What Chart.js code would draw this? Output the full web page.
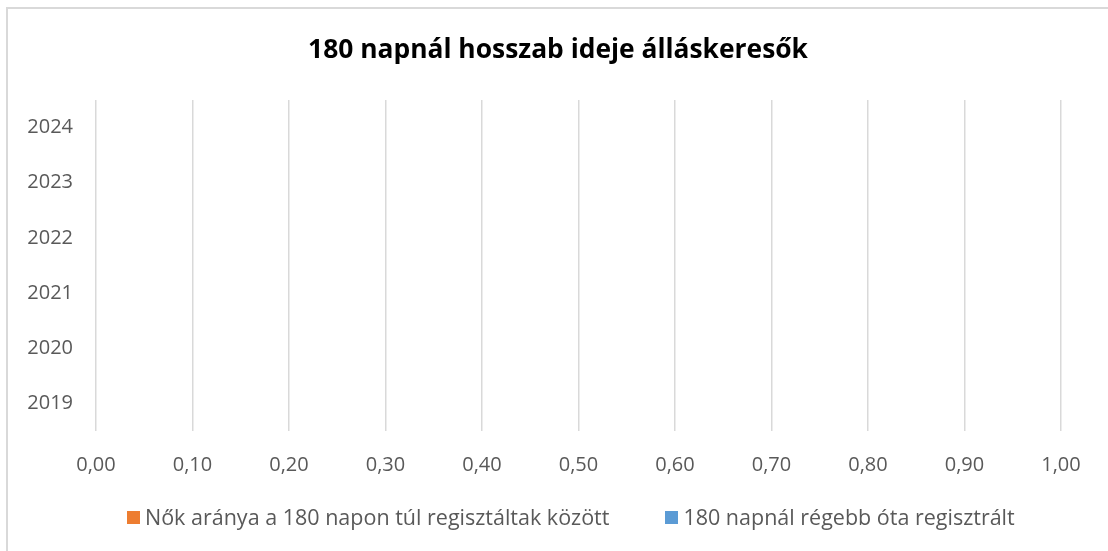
<!DOCTYPE html>
<html lang="hu">
<head>
<meta charset="utf-8">
<title>180 napnál hosszab ideje álláskeresők</title>
<script src="https://cdn.jsdelivr.net/npm/chart.js@4.4.1/dist/chart.umd.min.js"></script>
<style>
  html, body { margin: 0; padding: 0; background: #fff; overflow: hidden; }
  #frame {
    position: absolute; left: 6px; top: 7px; width: 1130px; height: 570px;
    border: 2px solid #d9d9d9; box-sizing: border-box;
  }
  #wrap { position: absolute; left: 0; top: 0; width: 1108px; height: 551px; }
  #legend {
    position: absolute; left: 0; top: 504px; padding-left: 127px;
    display: flex; gap: 56px;
    font-family: "Open Sans", sans-serif; font-size: 21.5px; color: #595959;
    line-height: 26px;
  }
  .lg-item { display: flex; align-items: center; white-space: nowrap; }
  .lg-box { width: 13px; height: 13px; margin-right: 5px; }
</style>
</head>
<body>
<div id="frame"></div>
<div id="wrap"><canvas id="chart"></canvas></div>
<div id="legend"></div>
<script>
/* empty horizontal bar chart — both series have no values in the source */

const years = ["2019", "2020", "2021", "2022", "2023", "2024"];
const womenShareName = "Nők aránya a 180 napon túl regisztáltak között";
const longTermName = "180 napnál régebb óta regisztrált";
const womenShare = [null, null, null, null, null, null];
const longTerm = [null, null, null, null, null, null];
const xTicks = { min: 0, max: 1, step: 0.1 };

const FONT = "'Open Sans', sans-serif";

const chart = new Chart(document.getElementById("chart"), {
  type: "bar",
  data: {
    labels: years,
    datasets: [
      { label: womenShareName, data: womenShare, backgroundColor: "#ED7D31" },
      { label: longTermName, data: longTerm, backgroundColor: "#5B9BD5" },
    ],
  },
  options: {
    indexAxis: "y",
    responsive: true,
    maintainAspectRatio: false,
    animation: false,
    layout: { padding: { top: 0, right: 0, bottom: 76, left: 8 } },
    plugins: {
      legend: { display: false },
      tooltip: { enabled: false },
      title: {
        display: true,
        text: "180 napnál hosszab ideje álláskeresők",
        color: "#000",
        font: { family: FONT, size: 26.4, weight: "bold" },
        padding: { top: 35, bottom: 33.3 },
      },
    },
    scales: {
      x: {
        min: xTicks.min,
        max: xTicks.max,
        border: { display: false },
        grid: { color: "#d9d9d9", lineWidth: 1.5, drawTicks: false },
        ticks: {
          stepSize: xTicks.step,
          padding: 22,
          color: "#595959",
          font: { family: FONT, size: 20 },
          callback: function (v) { return v.toFixed(2).replace(".", ","); },
        },
        afterFit: function (scale) { scale.height = 44; },
      },
      y: {
        reverse: true,
        border: { display: false },
        grid: { display: false, drawTicks: false },
        ticks: {
          padding: 23,
          color: "#595959",
          font: { family: FONT, size: 20 },
        },
        afterFit: function (scale) { scale.width = 88; },
      },
      // empty spacer on the right so the plot stops before the frame edge
      yRight: {
        position: "right",
        border: { display: false },
        grid: { display: false, drawTicks: false },
        ticks: { display: false },
        afterFit: function (scale) { scale.width = 47; },
      },
    },
  },
});

// html legend, same order as the source
const legendEl = document.getElementById("legend");
chart.data.datasets.forEach(function (ds) {
  const item = document.createElement("div");
  item.className = "lg-item";
  item.innerHTML = '<span class="lg-box" style="background:' + ds.backgroundColor +
    '"></span><span>' + ds.label + "</span>";
  legendEl.appendChild(item);
});
</script>
</body>
</html>
